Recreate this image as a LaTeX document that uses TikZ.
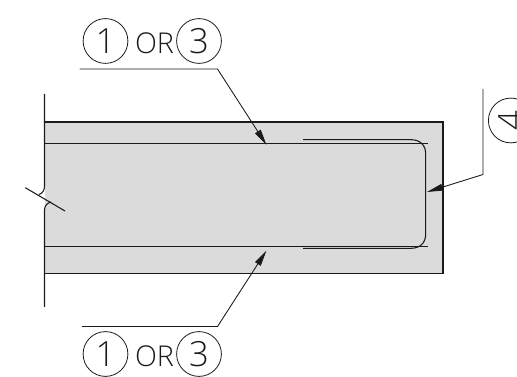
\documentclass[tikz,border=0pt]{standalone}
\usepackage{fontspec}
\usetikzlibrary{arrows.meta}
\newfontfamily\thinfont{Open Sans Light}
\definecolor{slab}{HTML}{DBDBDB}
\definecolor{ink}{HTML}{1A1A1A}
\tikzset{
  bubble/.style={draw=ink,circle,line width=0.6pt,minimum size=33.6pt,inner sep=0pt,font=\thinfont\fontsize{26}{26}\selectfont,text=ink},
  ortext/.style={inner sep=0pt,font=\thinfont\fontsize{21.5}{21.5}\selectfont,text=ink},
  edge/.style={draw=ink,line width=0.8pt},
  leader/.style={draw=ink,line width=0.65pt},
  pointer/.style={leader,-{Stealth[length=12pt,width=5pt,inset=0pt]}}
}
\begin{document}
\begin{tikzpicture}[x=0.75pt,y=-0.75pt]
\useasboundingbox (0,0) rectangle (517,377);
\clip (0,0) rectangle (517,377);
\fill[slab] (44.5,122) rectangle (443,273.5);
% outline
\draw[edge] (44.5,122) -- (443,122) -- (443,273.5) -- (44.5,273.5);
\draw[edge] (44.5,94) -- (44.5,186) .. controls (44.5,190) and (43,193) .. (39,194.5);
\draw[edge] (51,202) .. controls (47,203) and (44.5,206) .. (44.5,210) -- (44.5,307);
\draw[edge] (25.3,187.7) -- (65,211);
% inner lines
\draw[edge] (44.5,143.5) -- (428,143.5);
\draw[edge] (44.5,246.5) -- (428,246.5);
% stirrup
\draw[edge] (303,139.7) -- (411,139.7) .. controls (420,139.7) and (425.7,145) .. (425.7,154)
  -- (425.7,234) .. controls (425.7,243) and (420,248.3) .. (411,248.3) -- (303,248.3);
% callouts top
\node[bubble] (t1) at (105.5,41) {1};
\node[bubble] (t3) at (199,41) {3};
\node[ortext] (tor) at (154.5,43) {OR};
\coordinate (tl) at (79.5,69);
\coordinate (tk) at (217.5,69);
\coordinate (tt) at (266.5,145);
\draw[pointer] (tl) -- (tk) -- (tt);
% callouts bottom
\node[bubble] (b1) at (105.5,354) {1};
\node[bubble] (b3) at (199,354) {3};
\node[ortext] (bor) at (154.5,356) {OR};
\coordinate (bl) at (82,326.5);
\coordinate (bk) at (217.5,326.5);
\coordinate (bt) at (266.5,250.5);
\draw[pointer] (bl) -- (bk) -- (bt);
% callout right
\node[bubble,rotate=90] (r4) at (510.8,120.5) {4};
\coordinate (rl) at (483,89);
\coordinate (rk) at (483,174.5);
\coordinate (rt) at (427,192);
\draw[pointer] (rl) -- (rk) -- (rt);
\end{tikzpicture}
\end{document}
